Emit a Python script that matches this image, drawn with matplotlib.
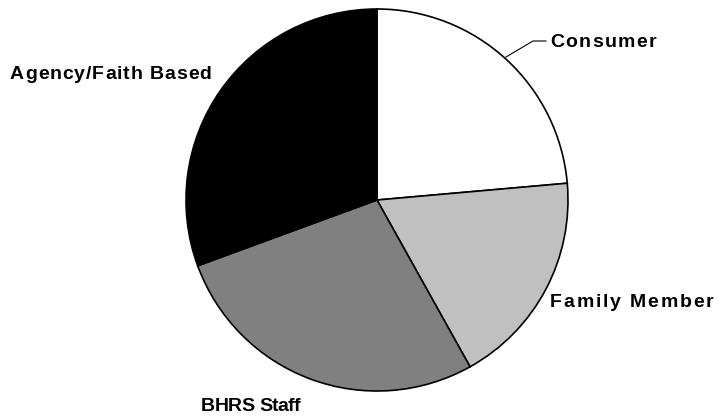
import matplotlib.pyplot as plt

# Pie data (share of respondents)
categories = ['Consumer', 'Family Member', 'BHRS Staff', 'Agency/Faith Based']
shares = [23.6, 18.3, 27.5, 30.6]
colors = ['#FFFFFF', '#C0C0C0', '#808080', '#000000']

plt.rcParams['font.family'] = ['Liberation Sans', 'DejaVu Sans']

W, H = 719, 417
fig = plt.figure(figsize=(W / 100, H / 100), dpi=100)
ax = fig.add_axes([186 / W, 26 / H, 382 / W, 382 / H])

ax.pie(shares, colors=colors, startangle=90, counterclock=False,
       wedgeprops={'edgecolor': 'black', 'linewidth': 1.2})
ax.set_xlim(-1, 1)
ax.set_ylim(-1, 1)
ax.set_aspect('equal')
ax.axis('off')

renderer = fig.canvas.get_renderer()
font = dict(fontsize=14, fontweight='bold', va='baseline', ha='left')


def text_width(s):
    t = fig.text(0, 0, s, **font)
    w = t.get_window_extent(renderer).width
    t.remove()
    return w


# Draw a label char by char with extra letter spacing (like the original)
def tracked_label(px, py, label, tracking):
    base = text_width('HH')
    x = px
    for ch in label:
        fig.text(x / W, (H - py) / H, ch, **font)
        x += text_width('H' + ch + 'H') - base + tracking


# Consumer label with leader line (pixel coords -> pie data coords)
def px2data(px, py):
    return (px - 377) / 191, (200 - py) / 191


line_pts = [px2data(506, 57), px2data(533, 41), px2data(546, 41)]
ax.plot([p[0] for p in line_pts], [p[1] for p in line_pts],
        color='black', lw=0.8, clip_on=False)

tracked_label(550, 47, categories[0], 1.4)
tracked_label(550, 307, categories[1], 1.8)
tracked_label(201, 411, categories[2], -0.5)
tracked_label(10, 79, categories[3], 0.9)

fig.savefig('out.png', dpi=100)
